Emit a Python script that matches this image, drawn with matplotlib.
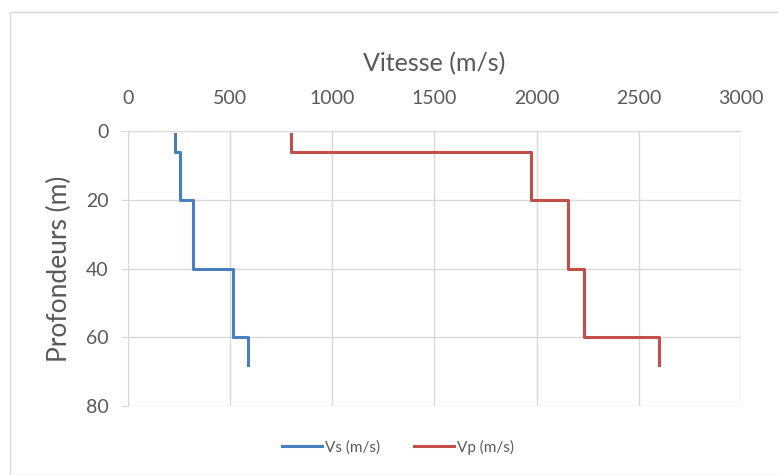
import matplotlib.pyplot as plt
from matplotlib.patches import Rectangle

# DATA
depths = [1, 6, 20, 40, 60, 68]
vs = [230, 255, 317, 513, 587, 587]
vp = [800, 1974, 2153, 2232, 2600, 2600]

TEXT = '#595959'
GRID = '#d9d9d9'

plt.rcParams['font.family'] = ['Lato', 'DejaVu Sans']

fig = plt.figure(figsize=(7.78, 4.75), dpi=100)
ax = fig.add_axes([128 / 778, 1 - 406 / 475, (741 - 128) / 778, (406 - 131) / 475])

# chart border
fig.patches.append(Rectangle((10 / 778, 0), 1, 1 - 12 / 475, transform=fig.transFigure,
                             fill=False, edgecolor='#d9d9d9', linewidth=1))

ax.plot(vs, depths, drawstyle='steps-pre', color='#4a7ebf', linewidth=2.2, label='Vs (m/s)')
ax.plot(vp, depths, drawstyle='steps-pre', color='#c44e4b', linewidth=2.2, label='Vp (m/s)')

ax.set_xlim(0, 3000)
ax.set_ylim(80, 0)
ax.set_xticks(range(0, 3001, 500))
ax.set_yticks(range(0, 81, 20))
ax.xaxis.tick_top()
ax.xaxis.set_label_position('top')
ax.grid(True, color=GRID, linewidth=1)
ax.set_axisbelow(True)
for s in ['top', 'right', 'bottom']:
    ax.spines[s].set_visible(False)
ax.spines['left'].set_color(GRID)
ax.tick_params(axis='x', length=0, labelsize=14, labelcolor=TEXT, pad=17)
ax.tick_params(axis='y', length=5, color=GRID, labelsize=14, labelcolor=TEXT, pad=9)

ax.set_xlabel('Vitesse (m/s)', fontsize=18, color=TEXT, labelpad=14)
ax.set_ylabel('Profondeurs (m)', fontsize=19, color=TEXT, labelpad=10)

fig.legend(loc='center', bbox_to_anchor=(398 / 778, 1 - 447 / 475), ncol=2, frameon=False,
           fontsize=11, labelcolor=TEXT, handlelength=2.6, columnspacing=2.2, handletextpad=0.2)

fig.savefig('out.png', dpi=100)
